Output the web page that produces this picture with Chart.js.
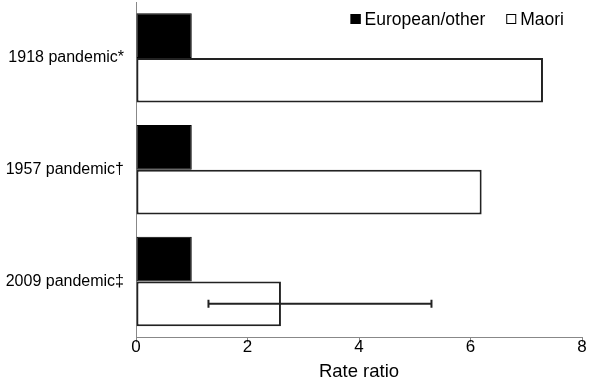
<!DOCTYPE html>
<html>
<head>
<meta charset="utf-8">
<script src="https://cdn.jsdelivr.net/npm/chart.js@4.4.1/dist/chart.umd.min.js"></script>
<style>
  html, body { margin: 0; padding: 0; background: #fff; }
  #wrap { width: 600px; height: 390px; }
</style>
</head>
<body>
<div id="wrap"><canvas id="chart"></canvas></div>
<script>
const categories = ["1918 pandemic*", "1957 pandemic\u2020", "2009 pandemic\u2021"];
const european = [1, 1, 1];
const maori = [7.3, 6.2, 2.6];
const maoriLow = [null, null, 1.3];
const maoriHigh = [null, null, 5.3];
const xTicks = [0, 2, 4, 6, 8];

// error bar for the Maori series
const errorBars = {
  id: 'errorBars',
  afterDatasetsDraw(chart) {
    const ctx = chart.ctx;
    const meta = chart.getDatasetMeta(1);
    const x = chart.scales.x;
    ctx.save();
    ctx.strokeStyle = '#222';
    ctx.lineWidth = 2;
    meta.data.forEach((bar, i) => {
      if (maoriLow[i] == null) return;
      const x1 = x.getPixelForValue(maoriLow[i]);
      const x2 = x.getPixelForValue(maoriHigh[i]);
      const y = bar.y;
      ctx.beginPath();
      ctx.moveTo(x1, y); ctx.lineTo(x2, y);
      ctx.moveTo(x1, y - 4); ctx.lineTo(x1, y + 4);
      ctx.moveTo(x2, y - 4); ctx.lineTo(x2, y + 4);
      ctx.stroke();
    });
    ctx.restore();
  }
};

// legend drawn inside the plot, top right
const innerLegend = {
  id: 'innerLegend',
  afterDraw(chart) {
    const ctx = chart.ctx;
    const area = chart.chartArea;
    ctx.save();
    ctx.font = "17.5px 'Liberation Sans', Arial, sans-serif";
    ctx.textBaseline = 'middle';
    const y = area.top + 17;
    let x = area.right - 18;
    const sets = chart.data.datasets.slice().reverse();
    sets.forEach(ds => {
      const w = ctx.measureText(ds.label).width;
      x -= w;
      ctx.fillStyle = '#000';
      ctx.textAlign = 'left';
      ctx.fillText(ds.label, x, y + 1);
      x -= 14;
      ctx.fillStyle = ds.backgroundColor;
      ctx.fillRect(x, y - 5, 10, 10);
      ctx.strokeStyle = '#000';
      ctx.lineWidth = 1;
      ctx.strokeRect(x + 0.5, y - 4.5, 9, 9);
      x -= 21;
    });
    ctx.restore();
  }
};

Chart.defaults.font.family = "'Liberation Sans', Arial, sans-serif";
Chart.defaults.color = '#000';

new Chart(document.getElementById('chart'), {
  type: 'bar',
  data: {
    labels: categories,
    datasets: [
      { label: 'European/other', data: european, backgroundColor: '#000', borderColor: '#000', borderWidth: 1, borderSkipped: false },
      { label: 'Maori', data: maori, backgroundColor: '#fff', borderColor: '#222', borderWidth: 2, borderSkipped: false }
    ]
  },
  options: {
    indexAxis: 'y',
    responsive: true,
    maintainAspectRatio: false,
    animation: false,
    layout: { padding: { top: 2, right: 18, bottom: 7, left: 6 } },
    datasets: { bar: { categoryPercentage: 0.8, barPercentage: 1 } },
    plugins: {
      legend: { display: false },
      tooltip: { enabled: false }
    },
    scales: {
      x: {
        min: 0, max: 8,
        afterBuildTicks(axis) { axis.ticks = xTicks.map(v => ({ value: v })); },
        grid: { drawOnChartArea: false, drawTicks: true, tickLength: 5, color: '#888' },
        border: { color: '#888', width: 1 },
        ticks: { font: { size: 17 }, padding: -5, color: '#000' },
        title: { display: true, text: 'Rate ratio', font: { size: 18.5 }, color: '#000', padding: { top: 8, bottom: 0 } }
      },
      y: {
        grid: { display: false, drawTicks: false },
        border: { color: '#888', width: 1 },
        ticks: { font: { size: 16 }, padding: 12, color: '#000' },
        afterFit(axis) {
          axis.width = 130;
          axis.paddingTop = 0;
          axis.paddingBottom = 0;
        }
      }
    }
  },
  plugins: [errorBars, innerLegend]
});
</script>
</body>
</html>
